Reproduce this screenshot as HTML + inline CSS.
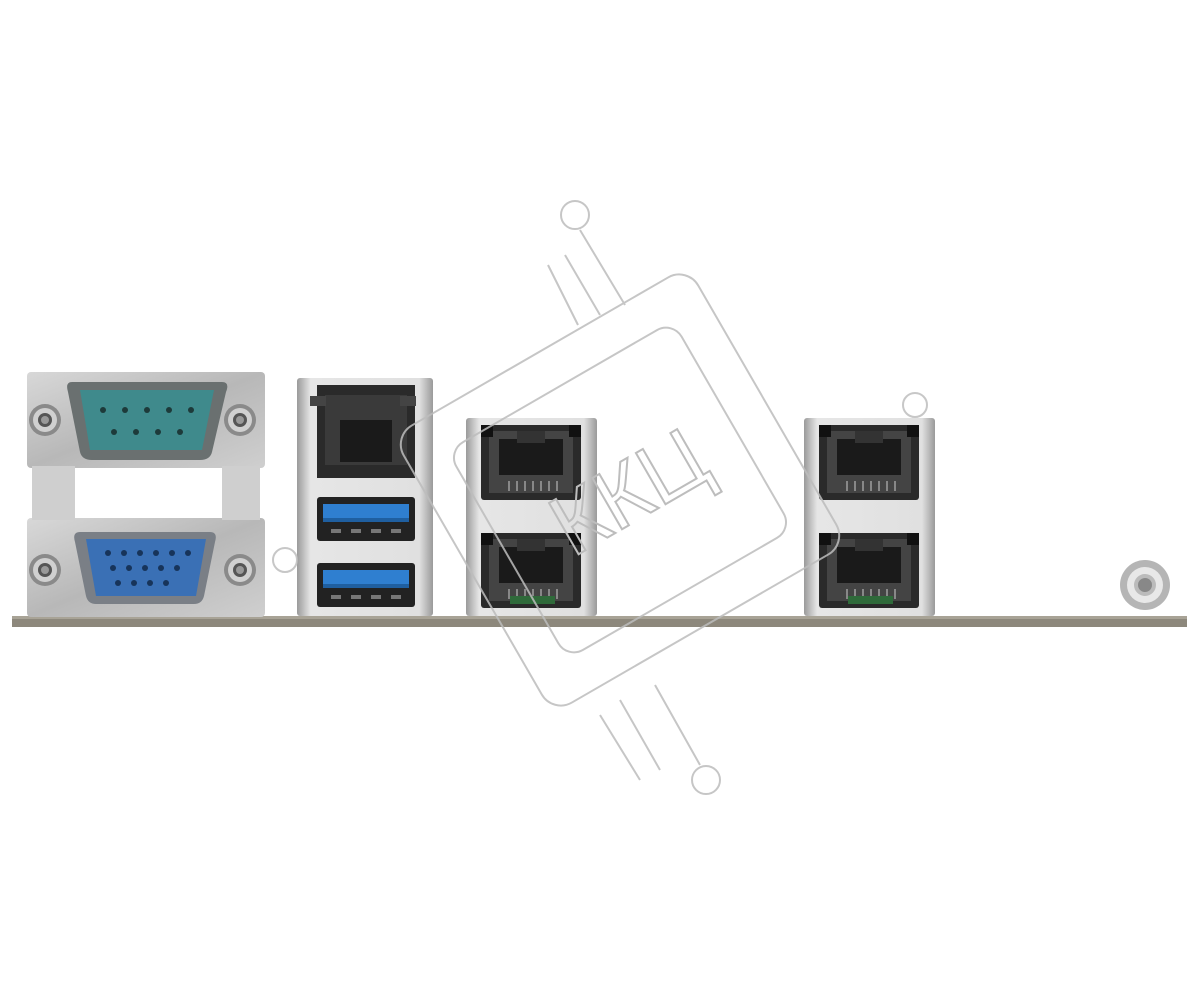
<!DOCTYPE html>
<html><head><meta charset="utf-8"><style>html,body{margin:0;padding:0;background:#fff;width:1200px;height:1000px;overflow:hidden}</style></head>
<body>
<svg width="1200" height="1000" viewBox="0 0 1200 1000" xmlns="http://www.w3.org/2000/svg">
<defs>
<linearGradient id="met" x1="0" y1="0" x2="1" y2="1"><stop offset="0" stop-color="#d8d8d8"/><stop offset=".5" stop-color="#b8b8b8"/><stop offset="1" stop-color="#cfcfcf"/></linearGradient>
<linearGradient id="met2" x1="0" y1="0" x2="1" y2="0"><stop offset="0" stop-color="#9a9a9a"/><stop offset=".1" stop-color="#e6e6e6"/><stop offset=".9" stop-color="#e0e0e0"/><stop offset="1" stop-color="#9a9a9a"/></linearGradient>
<g id="screw"><circle r="16" fill="#8a8a8a"/><circle r="12" fill="#d0d0d0"/><circle r="7" fill="#555"/><circle r="4" fill="#999"/></g>
<g id="rj"><rect x="0" y="0" width="100" height="75" rx="3" fill="#2a2a2a"/><rect x="8" y="6" width="84" height="62" fill="#444"/><rect x="18" y="14" width="64" height="36" fill="#1a1a1a"/><rect x="36" y="6" width="28" height="12" fill="#333"/><g stroke="#888" stroke-width="2"><line x1="28" y1="56" x2="28" y2="66"/><line x1="36" y1="56" x2="36" y2="66"/><line x1="44" y1="56" x2="44" y2="66"/><line x1="52" y1="56" x2="52" y2="66"/><line x1="60" y1="56" x2="60" y2="66"/><line x1="68" y1="56" x2="68" y2="66"/><line x1="76" y1="56" x2="76" y2="66"/></g><rect x="0" y="0" width="12" height="12" fill="#111"/><rect x="88" y="0" width="12" height="12" fill="#111"/></g>
<g id="usb"><rect x="0" y="0" width="98" height="44" rx="3" fill="#222"/><rect x="6" y="7" width="86" height="14" fill="#2f7fd0"/><rect x="6" y="21" width="86" height="4" fill="#1f5fa0"/><g fill="#777"><rect x="14" y="32" width="10" height="4"/><rect x="34" y="32" width="10" height="4"/><rect x="54" y="32" width="10" height="4"/><rect x="74" y="32" width="10" height="4"/></g></g>
</defs>
<rect x="12" y="616" width="1175" height="11" fill="#8d887c"/>
<rect x="12" y="616" width="1175" height="3" fill="#a8a396"/>
<rect x="27" y="372" width="238" height="96" rx="4" fill="url(#met)"/>
<rect x="27" y="518" width="238" height="99" rx="4" fill="url(#met)"/>
<rect x="32" y="466" width="43" height="54" fill="#cfcfcf"/>
<rect x="222" y="466" width="38" height="54" fill="#cfcfcf"/>
<path d="M72 382 H222 Q230 382 226 392 L212 452 Q210 460 200 460 H92 Q82 460 80 452 L68 392 Q65 382 72 382Z" fill="#6a7070"/>
<path d="M80 390 H214 L202 450 H90Z" fill="#3f8a8c"/>
<g fill="#1d3a3a"><circle cx="103" cy="410" r="3"/><circle cx="125" cy="410" r="3"/><circle cx="147" cy="410" r="3"/><circle cx="169" cy="410" r="3"/><circle cx="191" cy="410" r="3"/><circle cx="114" cy="432" r="3"/><circle cx="136" cy="432" r="3"/><circle cx="158" cy="432" r="3"/><circle cx="180" cy="432" r="3"/></g>
<path d="M80 532 H210 Q218 532 215 542 L204 596 Q202 604 194 604 H96 Q88 604 86 596 L75 542 Q72 532 80 532Z" fill="#7a7f86"/>
<path d="M86 539 H206 L196 596 H96Z" fill="#3a70b5"/>
<g fill="#17345a"><circle cx="108" cy="553" r="3"/><circle cx="124" cy="553" r="3"/><circle cx="140" cy="553" r="3"/><circle cx="156" cy="553" r="3"/><circle cx="172" cy="553" r="3"/><circle cx="188" cy="553" r="3"/><circle cx="113" cy="568" r="3"/><circle cx="129" cy="568" r="3"/><circle cx="145" cy="568" r="3"/><circle cx="161" cy="568" r="3"/><circle cx="177" cy="568" r="3"/><circle cx="118" cy="583" r="3"/><circle cx="134" cy="583" r="3"/><circle cx="150" cy="583" r="3"/><circle cx="166" cy="583" r="3"/></g>
<use href="#screw" x="45" y="420"/><use href="#screw" x="240" y="420"/><use href="#screw" x="45" y="570"/><use href="#screw" x="240" y="570"/>
<rect x="297" y="378" width="136" height="238" rx="3" fill="url(#met2)"/>
<rect x="317" y="385" width="98" height="93" fill="#2a2a2a"/>
<rect x="325" y="395" width="82" height="70" fill="#3a3a3a"/>
<rect x="340" y="420" width="52" height="42" fill="#1a1a1a"/>
<rect x="310" y="396" width="16" height="10" fill="#444"/><rect x="400" y="396" width="16" height="10" fill="#444"/>
<use href="#usb" x="317" y="497"/><use href="#usb" x="317" y="563"/>
<rect x="466" y="418" width="131" height="198" rx="3" fill="url(#met2)"/>
<use href="#rj" x="481" y="425"/><use href="#rj" x="481" y="533"/>
<rect x="510" y="596" width="45" height="8" fill="#2f6a3a"/>
<rect x="804" y="418" width="131" height="198" rx="3" fill="url(#met2)"/>
<use href="#rj" x="819" y="425"/><use href="#rj" x="819" y="533"/>
<rect x="848" y="596" width="45" height="8" fill="#2f6a3a"/>
<circle cx="1145" cy="585" r="25" fill="#b5b5b5"/><circle cx="1145" cy="585" r="18" fill="#e8e8e8"/><circle cx="1145" cy="585" r="11" fill="#bbb"/><circle cx="1145" cy="585" r="7" fill="#888"/>
<g fill="none" stroke="#bdbdbd" stroke-width="2" opacity="0.85">
<g transform="rotate(-30 620 490)"><rect x="450" y="330" width="340" height="320" rx="22"/><rect x="490" y="370" width="260" height="240" rx="18"/></g>
<circle cx="575" cy="215" r="14"/><line x1="580" y1="230" x2="625" y2="305"/><line x1="565" y1="255" x2="600" y2="315"/><line x1="548" y1="265" x2="578" y2="325"/>
<circle cx="706" cy="780" r="14"/><line x1="700" y1="765" x2="655" y2="685"/><line x1="660" y1="770" x2="620" y2="700"/><line x1="640" y1="780" x2="600" y2="715"/>
<circle cx="285" cy="560" r="12"/><circle cx="915" cy="405" r="12"/>
</g>
<text x="545" y="525" transform="rotate(-30 620 490)" font-family="Liberation Sans, sans-serif" font-size="86" fill="none" stroke="#bdbdbd" stroke-width="2">ККЦ</text>
</svg>
</body></html>
